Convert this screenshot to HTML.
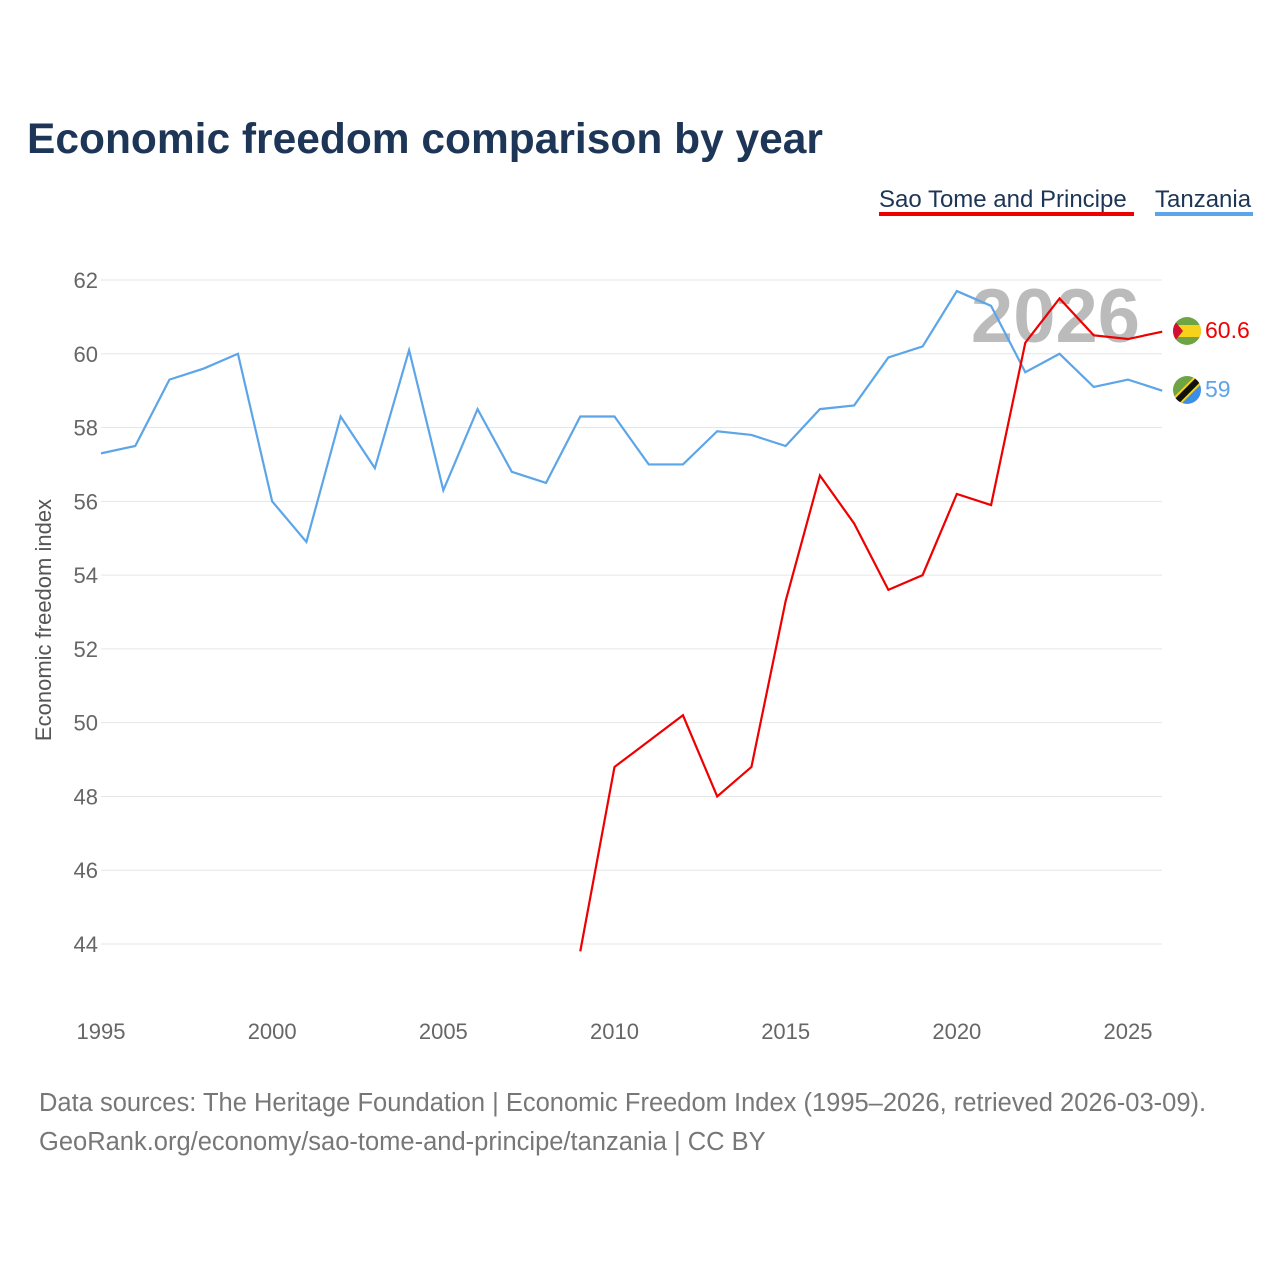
<!DOCTYPE html>
<html><head><meta charset="utf-8"><style>
body{margin:0;background:#fff;width:1280px;height:1280px;overflow:hidden;font-family:"Liberation Sans",sans-serif}
</style></head><body>
<svg id="chart" width="1280" height="1280" xmlns="http://www.w3.org/2000/svg">
<text x="27" y="153" font-size="42.5" font-weight="bold" fill="#1d3557">Economic freedom comparison by year</text>
<g>
<text x="879" y="207" font-size="24" fill="#1d3557">Sao Tome and Principe</text>
<rect x="879" y="212" width="255" height="4" fill="#ee0000"/>
<text x="1155" y="207" font-size="24" fill="#1d3557">Tanzania</text>
<rect x="1155" y="212" width="98" height="4" fill="#5ca5e8"/>
</g>
<text x="1140" y="342" font-size="76" font-weight="bold" fill="#bbbbbb" text-anchor="end">2026</text>
<g id="grid"></g><g id="yt"></g><g id="xt"></g><g id="lines"></g>
<text transform="translate(51,620) rotate(-90)" font-size="22" fill="#555" text-anchor="middle">Economic freedom index</text>
<g>
<clipPath id="c1"><circle cx="1187" cy="331" r="14"/></clipPath>
<g clip-path="url(#c1)"><rect x="1170" y="315" width="34" height="32" fill="#6ea443"/><rect x="1170" y="325" width="34" height="12" fill="#f7d21a"/><polygon points="1170,315 1183,331 1170,347" fill="#d21034"/></g>
</g>
<g>
<clipPath id="c2"><circle cx="1187" cy="390" r="14"/></clipPath>
<g clip-path="url(#c2)"><polygon points="1170,374 1204,374 1170,408" fill="#6ea443"/><polygon points="1204,374 1204,408 1170,408" fill="#3a8ee8"/><line x1="1170" y1="408" x2="1204" y2="374" stroke="#f7d21a" stroke-width="10"/><line x1="1170" y1="408" x2="1204" y2="374" stroke="#111" stroke-width="6"/></g>
</g>
<text x="1205" y="338" font-size="23" fill="#ee0000">60.6</text>
<text x="1205" y="397" font-size="23" fill="#5ca5e8">59</text>
<text x="39" y="1111" font-size="25.5" fill="#777">Data sources: The Heritage Foundation | Economic Freedom Index (1995–2026, retrieved 2026-03-09).</text>
<text x="39" y="1150" font-size="25.5" fill="#777">GeoRank.org/economy/sao-tome-and-principe/tanzania | CC BY</text>
</svg>
<script>
const years=[1995,1996,1997,1998,1999,2000,2001,2002,2003,2004,2005,2006,2007,2008,2009,2010,2011,2012,2013,2014,2015,2016,2017,2018,2019,2020,2021,2022,2023,2024,2025,2026];
const tanzania=[57.3,57.5,59.3,59.6,60.0,56.0,54.9,58.3,56.9,60.1,56.3,58.5,56.8,56.5,58.3,58.3,57.0,57.0,57.9,57.8,57.5,58.5,58.6,59.9,60.2,61.7,61.3,59.5,60.0,59.1,59.3,59.0];
const stpYears=[2009,2010,2011,2012,2013,2014,2015,2016,2017,2018,2019,2020,2021,2022,2023,2024,2025,2026];
const stp=[43.8,48.8,49.5,50.2,48.0,48.8,53.3,56.7,55.4,53.6,54.0,56.2,55.9,60.3,61.5,60.5,60.4,60.6];
const yTicks=[44,46,48,50,52,54,56,58,60,62];
const xTicks=[1995,2000,2005,2010,2015,2020,2025];
const NS="http://www.w3.org/2000/svg";
const X=v=>101+(v-1995)*(1128-101)/30;
const Y=v=>280+(62-v)*(944-280)/18;
function mk(t,a,p){const e=document.createElementNS(NS,t);for(const k in a)e.setAttribute(k,a[k]);p.appendChild(e);return e;}
const g=document.getElementById('grid'),yt=document.getElementById('yt'),xt=document.getElementById('xt'),ln=document.getElementById('lines');
yTicks.forEach(v=>{
 const l=mk('line',{x1:101,x2:1162,y1:Y(v),y2:Y(v),stroke:'#e6e6e6','stroke-width':1},g);
 
 
 const t=mk('text',{x:98,y:Y(v)+8,'font-size':22,fill:'#666','text-anchor':'end'},yt);t.textContent=v;
 
 
});
xTicks.forEach(v=>{
 const t=mk('text',{x:X(v),y:1039,'font-size':22,fill:'#666','text-anchor':'middle'},xt);t.textContent=v;
 
 
});
const p1=mk('polyline',{points:years.map((y,i)=>X(y)+','+Y(tanzania[i])).join(' '),fill:'none',stroke:'#5ca5e8','stroke-width':2.2},ln);


const p2=mk('polyline',{points:stpYears.map((y,i)=>X(y)+','+Y(stp[i])).join(' '),fill:'none',stroke:'#ee0000','stroke-width':2.2},ln);


</script>
</body></html>
